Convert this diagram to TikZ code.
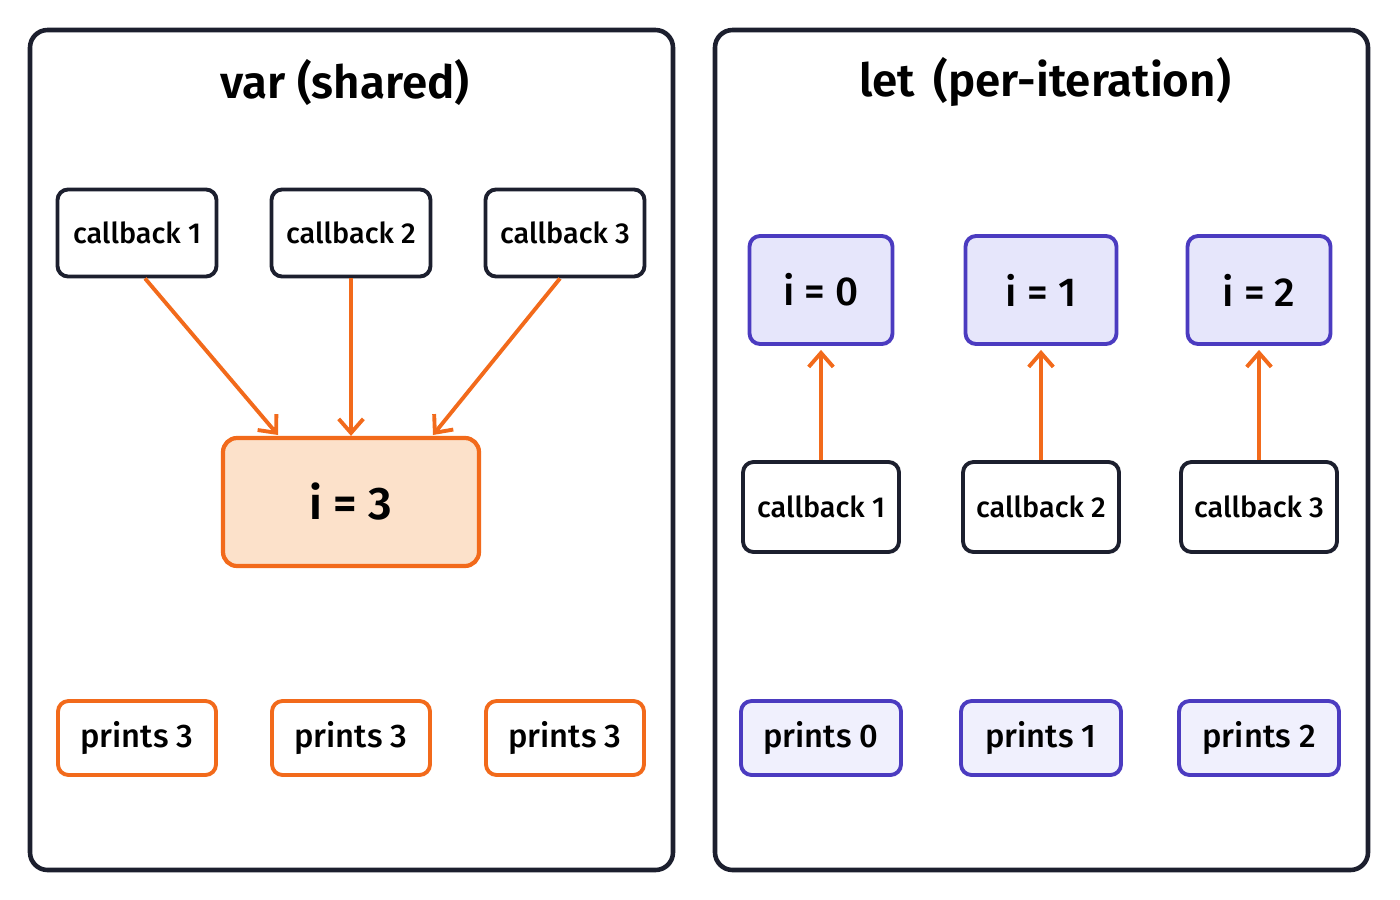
\documentclass[tikz,border=0pt]{standalone}
\usepackage{fontspec}
\setmainfont{Fira Sans}[UprightFont=* Medium, BoldFont=* SemiBold]
\usetikzlibrary{arrows.meta, positioning}
\definecolor{orangeline}{HTML}{F26A1B}
\definecolor{orangefill}{HTML}{FCE1CA}
\definecolor{purpleline}{HTML}{4B3BC0}
\definecolor{purplefill}{HTML}{E6E6FB}
\definecolor{inkline}{HTML}{1C1F2E}
\newlength{\pxu}\setlength{\pxu}{0.01cm}
\tikzset{
  panel/.style={draw=inkline, line width=1.3pt, rounded corners=5pt},
  cb/.style={draw=inkline, line width=1.1pt, rounded corners=3pt, fill=white, font=\fontsize{8.2}{10}\selectfont},
  prorange/.style={draw=orangeline, line width=1.1pt, rounded corners=3pt, fill=white, minimum width=158\pxu, minimum height=74\pxu, font=\fontsize{9.3}{11}\selectfont},
  prpurple/.style={prorange, draw=purpleline, fill=purplefill!60},
  ibox/.style={draw=purpleline, fill=purplefill, line width=1.1pt, rounded corners=3pt, minimum height=108\pxu, font=\fontsize{11.5}{13}\selectfont},
  link/.style={orangeline, line width=1.1pt, -{Straight Barb[length=4pt,width=7pt]}}
}
\begin{document}
\begin{tikzpicture}[x=0.01cm, y=-0.01cm]
  \useasboundingbox (0,0) rectangle (1400,900);
  % panels
  \draw[panel] (30,30) rectangle (673,870);
  \draw[panel] (715,30) rectangle (1368,870);
  \node[font=\fontsize{13}{16}\selectfont\bfseries] (varT) at (345,82) {var (shared)};
  \node[font=\fontsize{13}{16}\selectfont\bfseries] (letT) at (1045,82) {let\, (per-iteration)};
  % var side
  \node[draw=orangeline, fill=orangefill, line width=1.2pt, rounded corners=4pt, minimum width=256\pxu, minimum height=128\pxu, font=\fontsize{13}{15}\selectfont\bfseries] (shared) at (351,502) {i = 3};
  \foreach \x/\n/\k in {137/1/a, 351/2/b, 565/3/c}{
    \node[cb, minimum width=159\pxu, minimum height=87\pxu] (v\k) at (\x,233) {callback \n};
    \node[prorange] (vp\k) at (\x,738) {prints 3};
  }
  \draw[link] (va.south) ++(8,0) -- (278,435);
  \draw[link] (vb) -- (shared.north);
  \draw[link] (vc.south) ++(-5,0) -- (433,435);
  % let side
  \foreach \x/\w/\n/\k in {821/143/0/a, 1041/151/1/b, 1259/143/2/c}{
    \node[ibox, minimum width=\w\pxu] (li\k) at (\x,290) {i = \n};
    \node[prpurple, minimum width=160\pxu] (lp\k) at (\x,738) {prints \n};
    \node[cb, minimum width=156\pxu, minimum height=90\pxu] (lc\k) at (\x,507) {callback \the\numexpr\n+1\relax};
    \draw[link] (lc\k.north) -- ([yshift=-4\pxu]li\k.south);
  }
\end{tikzpicture}
\end{document}
